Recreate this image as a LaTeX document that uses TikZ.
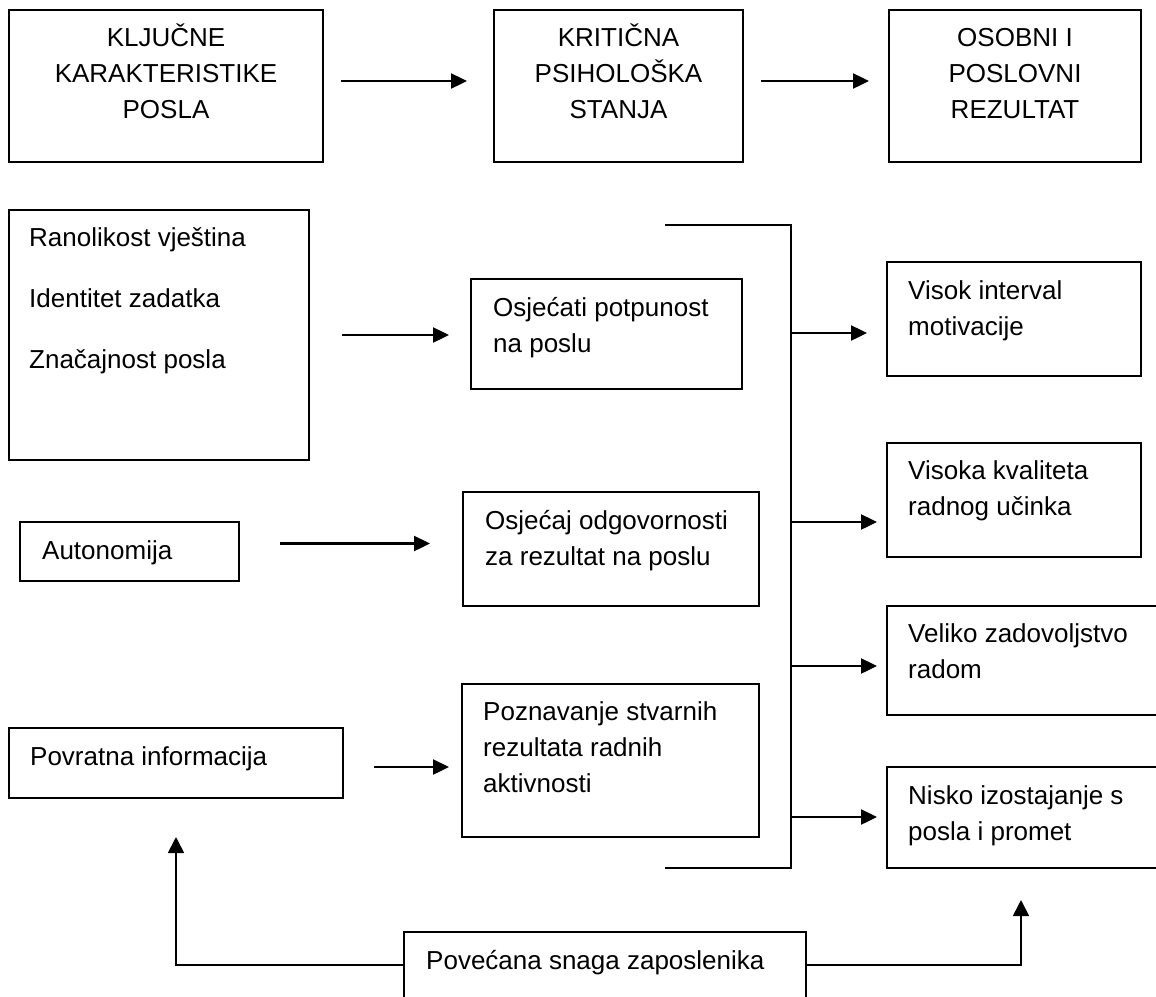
\documentclass[tikz,border=0pt]{standalone}
\usepackage{fontspec}
\setmainfont{Liberation Sans}
\usetikzlibrary{arrows.meta,calc}
\begin{document}
\begin{tikzpicture}[x=1pt,y=-1pt,
  box/.style={draw=black, line width=1.6pt, inner sep=0pt, outer sep=0pt, anchor=north west},
  txt/.style={inner sep=0pt, font=\fontsize{26}{36}\selectfont, align=left, anchor=north west},
  ctxt/.style={inner sep=0pt, font=\fontsize{26}{36}\selectfont, align=center, anchor=north},
  arr/.style={line width=2.4pt, -{Triangle[length=16pt,width=15pt]}},
  lin/.style={line width=1.6pt},
  farr/.style={line width=1.8pt, -{Triangle[length=16pt,width=16pt]}}]
\path[use as bounding box] (0,0) rectangle (1156,996);
\clip (0,0) rectangle (1156,996);
% top row
\node[box, minimum width=314pt, minimum height=152pt] (b1) at (9,10) {};
\node[box, minimum width=249pt, minimum height=152pt] (b2) at (494,10) {};
\node[box, minimum width=252pt, minimum height=152pt] (b3) at (889,10) {};
\node[ctxt] (t1) at (166,20.8) {\strut KLJUČNE\\KARAKTERISTIKE\\POSLA};
\node[ctxt] (t2) at (618.5,20.8) {\strut KRITIČNA\\PSIHOLOŠKA\\STANJA};
\node[ctxt] (t3) at (1015,20.8) {\strut OSOBNI I\\POSLOVNI\\REZULTAT};
\draw[arr, shorten <=18pt, shorten >=27pt] ([yshift=5pt]b1.east) -- ([yshift=5pt]b1.east -| b2.west);
\draw[arr, shorten <=18pt, shorten >=20pt] ([yshift=5pt]b2.east) -- ([yshift=5pt]b2.east -| b3.west);
% left column
\node[box, minimum width=300pt, minimum height=250pt] (ran) at (9,210) {};
\node[txt] (tran) at (29,220.8) {\strut Ranolikost vještina\\[25pt]Identitet zadatka\\[25pt]Značajnost posla};
\node[box, minimum width=219pt, minimum height=59pt] (aut) at (20,522) {};
\node[txt] (taut) at (42,533.8) {\strut Autonomija};
\node[box, minimum width=334pt, minimum height=70pt] (pov) at (9,728) {};
\node[txt] (tpov) at (30,739.8) {\strut Povratna informacija};
% middle column
\node[box, minimum width=271pt, minimum height=110pt] (osj1) at (471,279) {};
\node[txt] (tosj1) at (493,290.8) {\strut Osjećati potpunost\\na poslu};
\node[box, minimum width=296pt, minimum height=114pt] (osj2) at (463,492) {};
\node[txt] (tosj2) at (485,503.8) {\strut Osjećaj odgovornosti\\za rezultat na poslu};
\node[box, minimum width=297pt, minimum height=153pt] (poz) at (462,684) {};
\node[txt] (tpoz) at (483,694.8) {\strut Poznavanje stvarnih\\rezultata radnih\\aktivnosti};
% right column
\node[box, minimum width=254pt, minimum height=114pt] (vis1) at (887,262) {};
\node[txt] (tvis1) at (908,273.8) {\strut Visok interval\\motivacije};
\node[box, minimum width=254pt, minimum height=114pt] (vis2) at (887,443) {};
\node[txt] (tvis2) at (908,453.8) {\strut Visoka kvaliteta\\radnog učinka};
\node[box, minimum width=283pt, minimum height=109pt] (vel) at (887,606) {};
\node[txt] (tvel) at (908,616.8) {\strut Veliko zadovoljstvo\\radom};
\node[box, minimum width=283pt, minimum height=101pt] (nis) at (887,767) {};
\node[txt] (tnis) at (908,778.8) {\strut Nisko izostajanje s\\posla i promet};
% bottom
\node[box, minimum width=402pt, minimum height=90pt] (pove) at (404,932) {};
\node[txt] (tpove) at (426,943.8) {\strut Povećana snaga zaposlenika};
% input arrows
\draw[arr, shorten <=33pt, shorten >=22pt] (ran.east) -- (ran.east -| osj1.west);
\draw[arr, shorten <=41pt, shorten >=33pt] ([yshift=8pt]aut.east) -- ([yshift=8pt]aut.east -| osj2.west);
\draw[arr, shorten <=31pt, shorten >=13pt] ([yshift=-4pt]pov.east) -- ([yshift=-4pt]pov.east -| poz.west);
% bracket
\coordinate (bt) at (665,225);
\coordinate (bb) at (665,868);
\coordinate (bv) at (791,225);
\draw[lin] (bt) -- (bv) -- (bv |- bb) -- (bb);
\coordinate (j1) at (791,333);
\coordinate (j2) at (791,522);
\coordinate (j3) at (791,666);
\coordinate (j4) at (791,817);
\draw[arr, shorten >=20pt] (j1) -- (j1 -| vis1.west);
\draw[arr, shorten >=10pt] (j2) -- (j2 -| vis2.west);
\draw[arr, shorten >=10pt] (j3) -- (j3 -| vel.west);
\draw[arr, shorten >=10pt] (j4) -- (j4 -| nis.west);
% feedback
\draw[farr, shorten >=39pt] ([yshift=-33pt]pove.north west) -| (pov.south);
\draw[farr, shorten >=32pt] ([yshift=-33pt]pove.north east) -| ([xshift=134pt]nis.south west);
\end{tikzpicture}
\end{document}
